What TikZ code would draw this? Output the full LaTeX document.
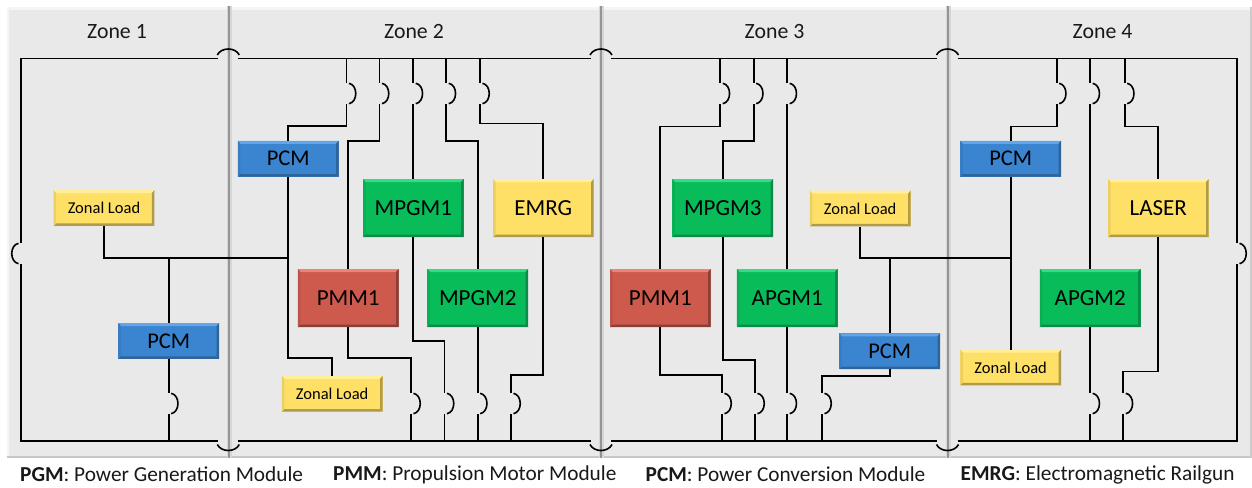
\documentclass[tikz,border=0pt]{standalone}
\usepackage{fontspec}
\setmainfont{Carlito}
\newcommand{\fsz}[1]{\fontsize{#1}{#1}\selectfont}
\definecolor{bluemain}{HTML}{3A84D0}\definecolor{bluetop}{HTML}{62A5E8}\definecolor{bluedark}{HTML}{2F6499}
\definecolor{greenmain}{HTML}{07BC59}\definecolor{greentop}{HTML}{35DB85}\definecolor{greendark}{HTML}{0B8A4A}
\definecolor{redmain}{HTML}{CE594D}\definecolor{redtop}{HTML}{EE8378}\definecolor{reddark}{HTML}{85423A}
\definecolor{yelmain}{HTML}{FFE066}\definecolor{yeltop}{HTML}{FFEE9A}\definecolor{yeldark}{HTML}{B09A4C}
\definecolor{panelfill}{HTML}{E9E9E9}
\tikzset{
  bevelbox/.style n args={3}{fill=#1, inner sep=0pt, text=black,
    path picture={
      \fill[#2] (path picture bounding box.north west) -- (path picture bounding box.north east)
        -- ([xshift=-2.5pt,yshift=-3pt]path picture bounding box.north east)
        -- ([xshift=2.5pt,yshift=-3pt]path picture bounding box.north west) -- cycle;
      \fill[#3] (path picture bounding box.south west) -- (path picture bounding box.south east)
        -- ([xshift=-2.5pt,yshift=2.5pt]path picture bounding box.south east)
        -- ([xshift=2.5pt,yshift=2.5pt]path picture bounding box.south west) -- cycle;
      \fill[#3] (path picture bounding box.north east) -- (path picture bounding box.south east)
        -- ([xshift=-2.5pt,yshift=2.5pt]path picture bounding box.south east)
        -- ([xshift=-2.5pt,yshift=-3pt]path picture bounding box.north east) -- cycle;
      \fill[#1!75!#3] (path picture bounding box.north west) -- (path picture bounding box.south west)
        -- ([xshift=2.5pt,yshift=2.5pt]path picture bounding box.south west)
        -- ([xshift=2.5pt,yshift=-3pt]path picture bounding box.north west) -- cycle;
    }},
  smallsz/.style={minimum width=100.6pt, minimum height=35.6pt},
  bigsz/.style={minimum width=100.6pt, minimum height=58pt, font=\fsz{23}},
  pcmbox/.style={bevelbox={bluemain}{bluetop}{bluedark}, smallsz, font=\fsz{22.5}},
  loadbox/.style={bevelbox={yelmain}{yeltop}{yeldark}, smallsz, font=\fsz{16.5}},
  yelbig/.style={bevelbox={yelmain}{yeltop}{yeldark}, bigsz},
  genbox/.style={bevelbox={greenmain}{greentop}{greendark}, bigsz},
  motorbox/.style={bevelbox={redmain}{redtop}{reddark}, bigsz},
  zonelabel/.style={font=\fsz{21.8}, text=black!90},
  legendtext/.style={font=\fsz{21.3}, anchor=west, inner sep=0pt, text=black!90},
  wire/.style={line width=1.8pt, black, line cap=butt, line join=miter},
  arcline/.style={line width=1.6pt, black, line cap=butt},
  busline/.style={wire},
}
% vertical breaker, bulging right: line ends #1-a (top) and #1-b (bottom)
\newcommand{\brkR}[3]{%
  \coordinate (#1-a) at (#2,#3);
  \coordinate (#1-b) at (#2,#3+21);
  \draw[arcline] (#2+2.5,#3+0.3) .. controls (#2+11.5,#3+2) and (#2+11.5,#3+19) .. (#2+2.5,#3+20.7);
}
\newcommand{\brkL}[3]{%
  \coordinate (#1-a) at (#2,#3);
  \coordinate (#1-b) at (#2,#3+21);
  \draw[arcline] (#2-2.5,#3+0.3) .. controls (#2-11.5,#3+2) and (#2-11.5,#3+19) .. (#2-2.5,#3+20.7);
}
\begin{document}
\begin{tikzpicture}[x=1pt,y=-1pt]
\useasboundingbox (0,0) rectangle (1252,487);
\fill[white] (0,0) rectangle (1252,487);
% panel
\fill[panelfill] (6.5,7) rectangle (1251.5,458);
\fill[black!4] (6.5,7) rectangle (1251.5,10);
\fill[black!4] (6.5,7) rectangle (8.5,458);
\fill[black!22] (6.5,455.5) rectangle (1251.5,458);
\fill[black!20] (1249.5,7) rectangle (1251.5,458);
% dividers
\foreach \dx/\dn in {229/divA,601/divB,948/divC}{
  \coordinate (\dn-t) at (\dx,6.5);
  \coordinate (\dn-b) at (\dx,458);
  \draw[line width=5pt, black!16] (\dn-t) -- (\dn-b);
  \draw[line width=2.4pt, black!42] (\dn-t) -- (\dn-b);
}
% zone labels
\node[zonelabel] (zone1) at (117,32) {Zone 1};
\node[zonelabel] (zone2) at (414,32) {Zone 2};
\node[zonelabel] (zone3) at (774.5,32) {Zone 3};
\node[zonelabel] (zone4) at (1102.5,32) {Zone 4};
% boxes
\node[loadbox] (zlA) at (104,208) {Zonal Load};
\node[pcmbox] (pcmA) at (168.7,341) {PCM};
\node[pcmbox] (pcmB) at (288.2,158.7) {PCM};
\node[loadbox] (zlB) at (332.2,393.7) {Zonal Load};
\node[motorbox] (pmmA) at (348.2,298) {PMM1};
\node[genbox] (mpgmA) at (413.3,208) {MPGM1};
\node[genbox] (mpgmB) at (477.7,298) {MPGM2};
\node[yelbig] (emrg) at (543.3,208) {EMRG};
\node[motorbox] (pmmB) at (660.3,298) {PMM1};
\node[genbox] (mpgmC) at (722.7,208) {MPGM3};
\node[genbox] (apgmA) at (787.2,298) {APGM1};
\node[loadbox] (zlC) at (860.2,208.5) {Zonal Load};
\node[pcmbox] (pcmC) at (889.7,351.2) {PCM};
\node[pcmbox] (pcmD) at (1010.7,158.7) {PCM};
\node[loadbox] (zlD) at (1010.7,367.5) {Zonal Load};
\node[genbox] (apgmB) at (1090.2,298) {APGM2};
\node[yelbig] (laser) at (1158.3,208) {LASER};
% legend
\node[legendtext] (lgA) at (20,474.5) {\textbf{PGM}: Power Generation Module};
\node[legendtext] (lgB) at (333,474.5) {\textbf{PMM}: Propulsion Motor Module};
\node[legendtext] (lgC) at (645.5,474.5) {\textbf{PCM}: Power Conversion Module};
\node[legendtext] (lgD) at (960.5,474.5) {\textbf{EMRG}: Electromagnetic Railgun};
% bus corners and gaps
\coordinate (tl) at (21,58.5); \coordinate (tr) at (1237,58.5);
\coordinate (bl) at (21,441); \coordinate (br) at (1237,441);
\foreach \gx/\gn in {228.3/A,601/B,947.5/C}{
  \coordinate (tg\gn l) at (\gx-10.5,58.5); \coordinate (tg\gn r) at (\gx+10,58.5);
  \coordinate (bg\gn l) at (\gx-10.5,441); \coordinate (bg\gn r) at (\gx+10,441);
  \draw[arcline] (\gx-11,55) .. controls (\gx-7,47) and (\gx+7,47) .. (\gx+11,55);
  \draw[arcline] (\gx-11,444.5) .. controls (\gx-7,452.5) and (\gx+7,452.5) .. (\gx+11,444.5);
}
% ends of the rings
\brkL{ringL}{21}{243}
\brkR{ringR}{1237}{243}
\draw[busline] (ringL-a) |- (tgAl);
\draw[busline] (tgAr) -- (tgBl);
\draw[busline] (tgBr) -- (tgCl);
\draw[busline] (tgCr) -| (ringR-a);
\draw[busline] (ringL-b) |- (bgAl);
\draw[busline] (bgAr) -- (bgBl);
\draw[busline] (bgBr) -- (bgCl);
\draw[busline] (bgCr) -| (ringR-b);
% top breakers
\brkR{ta}{346.5}{83}
\brkR{tb}{379.5}{83}
\brkR{tc}{413.3}{83}
\brkR{td}{446.3}{83}
\brkR{te}{480}{83}
\brkR{tf}{720.3}{83}
\brkR{tg}{753.7}{83}
\brkR{th}{787.2}{83}
\brkR{ti}{1056.7}{83}
\brkR{tj}{1090.2}{83}
\brkR{tk}{1124.7}{83}
\foreach \b in {ta,tb,tc,td,te,tf,tg,th,ti,tj,tk}{
  \draw[wire] (\b-a |- tl) -- (\b-a);
}
% bottom breakers
\brkR{ba}{168.7}{393}
\brkR{bb}{411}{393}
\brkR{bc}{444.5}{393}
\brkR{bd}{477.7}{393}
\brkR{be}{511}{393}
\brkR{bf}{722}{393}
\brkR{bg}{755}{393}
\brkR{bh}{787.2}{393}
\brkR{bi}{822}{393}
\brkR{bj}{1090.2}{393}
\brkR{bk}{1123.3}{393}
\foreach \b in {ba,bb,bc,bd,be,bf,bg,bh,bi,bj,bk}{
  \draw[wire] (\b-b) -- (\b-b |- bl);
}
% zone 1 and its tie into zone 2
\coordinate (jA) at (288.2,257.7);
\coordinate (jB) at (168.7,257.7);
\draw[wire] (zlA.south) |- (jA);
\draw[wire] (jB) -- (pcmA.north);
\draw[wire] (pcmA.south) -- (ba-a);
% zone 2
\draw[wire] (ta-b) -- ++(0,22) -| (pcmB.north);
\draw[wire] (pcmB.south) -- ++(0,181) -| (zlB.north);
\draw[wire] (tb-b) -- ++(0,37) -| (pmmA.north);
\draw[wire] (pmmA.south) -- ++(0,31) -| (bb-a);
\draw[wire] (tc-b) -- (mpgmA.north);
\draw[wire] (mpgmA.south) -- ++(0,104) -| (bc-a);
\draw[wire] (td-b) -- ++(0,37) -| (mpgmB.north);
\draw[wire] (mpgmB.south) -- (bd-a);
\draw[wire] (te-b) -- ++(0,19.5) -| (emrg.north);
\draw[wire] (emrg.south) -- ++(0,138) -| (be-a);
% zone 3
\draw[wire] (tf-b) -- ++(0,22.5) -| (pmmB.north);
\draw[wire] (pmmB.south) -- ++(0,48) -| (bf-a);
\draw[wire] (tg-b) -- ++(0,37) -| (mpgmC.north);
\draw[wire] (mpgmC.south) -- ++(0,123) -| (bg-a);
\draw[wire] (th-b) -- (apgmA.north);
\draw[wire] (apgmA.south) -- (bh-a);
\draw[wire] (pcmC.south) -- ++(0,6.5) -| (bi-a);
% zone 3 load and zone 4
\coordinate (jC) at (1010.7,257.7);
\coordinate (jD) at (889.7,257.7);
\draw[wire] (zlC.south) |- (jC);
\draw[wire] (jD) -- (pcmC.north);
\draw[wire] (ti-b) -- ++(0,22.5) -| (pcmD.north);
\draw[wire] (pcmD.south) -- (zlD.north);
\draw[wire] (tj-b) -- (apgmB.north);
\draw[wire] (apgmB.south) -- (bj-a);
\draw[wire] (tk-b) -- ++(0,22.5) -| (laser.north);
\draw[wire] (laser.south) -- ++(0,134.3) -| (bk-a);
\end{tikzpicture}
\end{document}
